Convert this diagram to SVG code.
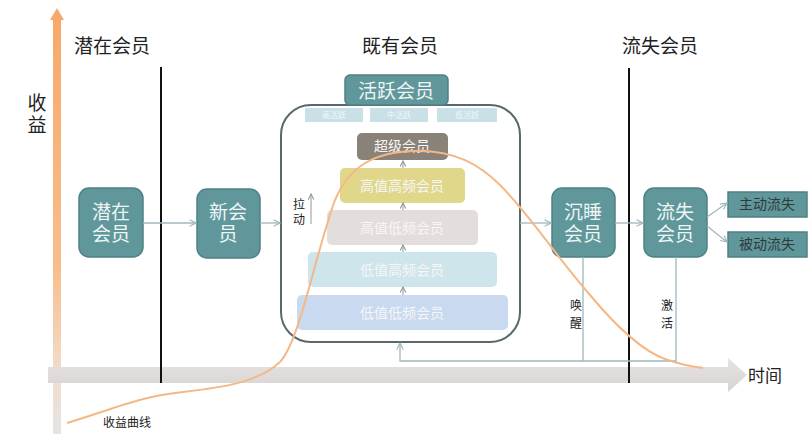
<svg xmlns="http://www.w3.org/2000/svg" width="811" height="442" viewBox="0 0 811 442">
<defs>
<style>
text{font-family:"Liberation Sans","Noto Sans CJK SC",sans-serif;}
.hd{font-size:19px;fill:#222;}
.node{fill:#5f979b;stroke:#4f8185;stroke-width:1.5;}
.nt{font-size:19px;fill:#eef5f5;text-anchor:middle;}
.lt{font-size:14px;fill:#f6f6f6;text-anchor:middle;}
.st{font-size:8px;fill:#f2f8fa;text-anchor:middle;}
.dt{font-size:14px;fill:#2f3a3b;text-anchor:middle;}
.sm{font-size:12px;fill:#222;text-anchor:middle;}
.cn{fill:none;stroke:#9fb9bc;stroke-width:1.3;}
.up{fill:none;stroke:#8a9a9c;stroke-width:1;}
</style>
<marker id="ah" viewBox="0 0 10 10" refX="9" refY="5" markerWidth="8" markerHeight="8" orient="auto" markerUnits="userSpaceOnUse">
<path d="M1,1 L9,5 L1,9" fill="none" stroke="#9fb9bc" stroke-width="1.5"/>
</marker>
<marker id="ah2" viewBox="0 0 10 10" refX="9" refY="5" markerWidth="7" markerHeight="7" orient="auto" markerUnits="userSpaceOnUse">
<path d="M1,1 L9,5 L1,9" fill="none" stroke="#8a9a9c" stroke-width="1.5"/>
</marker>
<linearGradient id="vax" x1="0" y1="0" x2="0" y2="1">
<stop offset="0" stop-color="#f7a96a"/>
<stop offset="0.6" stop-color="#f8bd8c"/>
<stop offset="0.85" stop-color="#f2dccb"/>
<stop offset="1" stop-color="#e4e4e4"/>
</linearGradient>
<linearGradient id="hax" x1="0" y1="0" x2="0" y2="1">
<stop offset="0" stop-color="#e6e3e2"/>
<stop offset="1" stop-color="#d6d3d2"/>
</linearGradient>
</defs>
<rect width="811" height="442" fill="#ffffff"/>

<g id="axes">
<rect x="53" y="17" width="8" height="417" fill="url(#vax)"/>
<path d="M50,20 L57,8 L64,20 Z" fill="#f7a96a"/>
<path d="M48,367 L728,367 L728,358 L747,375 L728,392 L728,383 L48,383 Z" fill="url(#hax)"/>
<text class="hd" x="37" y="110" text-anchor="middle"><tspan x="37">收</tspan><tspan x="37" dy="22">益</tspan></text>
<text class="hd" x="765" y="382" text-anchor="middle" style="font-size:17px">时间</text>
</g>

<g id="dividers">
<line x1="161" y1="67" x2="161" y2="383" stroke="#111" stroke-width="2"/>
<line x1="629" y1="68" x2="629" y2="383" stroke="#111" stroke-width="2"/>
<text class="hd" x="112" y="53" text-anchor="middle">潜在会员</text>
<text class="hd" x="400" y="53" text-anchor="middle">既有会员</text>
<text class="hd" x="660" y="53" text-anchor="middle">流失会员</text>
</g>

<g id="existing">
<rect x="281" y="105" width="239" height="237" rx="30" fill="#ffffff" stroke="#58686b" stroke-width="2"/>
<rect x="305" y="108" width="58" height="14" fill="#c8e0e6"/>
<rect x="370" y="108" width="58" height="14" fill="#c8e0e6"/>
<rect x="437" y="108" width="60" height="14" fill="#c8e0e6"/>
<text class="st" x="334" y="118">高活跃</text>
<text class="st" x="399" y="118">中活跃</text>
<text class="st" x="467" y="118">低活跃</text>
</g>

<g id="active">
<rect class="node" x="345" y="75" width="103" height="30" rx="5"/>
<text class="nt" x="396" y="98">活跃会员</text>
</g>

<g id="super">
<rect x="357" y="133" width="91" height="27" rx="5" fill="#8a8179"/>
<text class="lt" x="402" y="151">超级会员</text>
</g>
<g id="hvhf">
<rect x="340" y="168" width="125" height="35" rx="5" fill="#e1d78b"/>
<text class="lt" x="402" y="191">高值高频会员</text>
</g>
<g id="hvlf">
<rect x="327" y="210" width="151" height="35" rx="5" fill="#e3dedb"/>
<text class="lt" x="402" y="233">高值低频会员</text>
</g>
<g id="lvhf">
<rect x="308" y="252" width="189" height="35" rx="5" fill="#cde5eb"/>
<text class="lt" x="402" y="275">低值高频会员</text>
</g>
<g id="lvlf">
<rect x="297" y="295" width="211" height="35" rx="5" fill="#c9d9ef"/>
<text class="lt" x="402" y="318">低值低频会员</text>
</g>

<g id="pull">
<text class="sm" x="299" y="209"><tspan x="299">拉</tspan><tspan x="299" dy="15">动</tspan></text>
<line class="up" x1="311" y1="224" x2="311" y2="194" marker-end="url(#ah2)"/>
</g>

<g id="potential">
<rect class="node" x="79" y="188" width="64" height="69" rx="10"/>
<text class="nt" x="111" y="219"><tspan x="111">潜在</tspan><tspan x="111" dy="22">会员</tspan></text>
</g>
<g id="newm">
<rect class="node" x="197" y="189" width="63" height="69" rx="10"/>
<text class="nt" x="228" y="219"><tspan x="228">新会</tspan><tspan x="228" dy="22">员</tspan></text>
</g>
<g id="sleep">
<rect class="node" x="552" y="188" width="63" height="69" rx="10"/>
<text class="nt" x="583" y="219"><tspan x="583">沉睡</tspan><tspan x="583" dy="22">会员</tspan></text>
</g>
<g id="lost">
<rect class="node" x="644" y="188" width="63" height="69" rx="10"/>
<text class="nt" x="675" y="219"><tspan x="675">流失</tspan><tspan x="675" dy="22">会员</tspan></text>
</g>
<g id="activeLost">
<rect class="node" x="728" y="192" width="79" height="25" stroke="none"/>
<text class="dt" x="767" y="209">主动流失</text>
</g>
<g id="passiveLost">
<rect class="node" x="728" y="232" width="79" height="25" stroke="none"/>
<text class="dt" x="767" y="249">被动流失</text>
</g>

<g id="connectors">
<line class="cn" x1="143" y1="223" x2="196" y2="223" marker-end="url(#ah)"/>
<line class="cn" x1="260" y1="223" x2="280" y2="223" marker-end="url(#ah)"/>
<line class="cn" x1="520" y1="223" x2="551" y2="223" marker-end="url(#ah)"/>
<line class="cn" x1="615" y1="223" x2="643" y2="223" marker-end="url(#ah)"/>
<line class="cn" x1="707" y1="217" x2="727" y2="203" marker-end="url(#ah)"/>
<line class="cn" x1="707" y1="226" x2="727" y2="242" marker-end="url(#ah)"/>
<path class="cn" d="M583,257 L583,361 M676,257 L676,361 L400,361 L400,343" marker-end="url(#ah)"/>
<line class="up" x1="403" y1="168" x2="403" y2="161" marker-end="url(#ah2)"/>
<line class="up" x1="403" y1="210" x2="403" y2="203" marker-end="url(#ah2)"/>
<line class="up" x1="403" y1="252" x2="403" y2="245" marker-end="url(#ah2)"/>
<line class="up" x1="403" y1="295" x2="403" y2="287" marker-end="url(#ah2)"/>
<text class="sm" x="576" y="310"><tspan x="576">唤</tspan><tspan x="576" dy="18">醒</tspan></text>
<text class="sm" x="667" y="310"><tspan x="667">激</tspan><tspan x="667" dy="18">活</tspan></text>
</g>

<g id="curve">
<path d="M67,423 C110,410 140,397 175,393 C215,388 255,385 280,362 C300,340 315,255 335,200 C350,165 375,152 415,151 C455,150 480,165 500,185 C530,215 555,255 590,295 C615,325 640,350 665,359 C685,366 695,367 703,368" fill="none" stroke="#f4b887" stroke-width="2"/>
<text x="127" y="427" text-anchor="middle" style="font-size:12px;fill:#222">收益曲线</text>
</g>
</svg>
